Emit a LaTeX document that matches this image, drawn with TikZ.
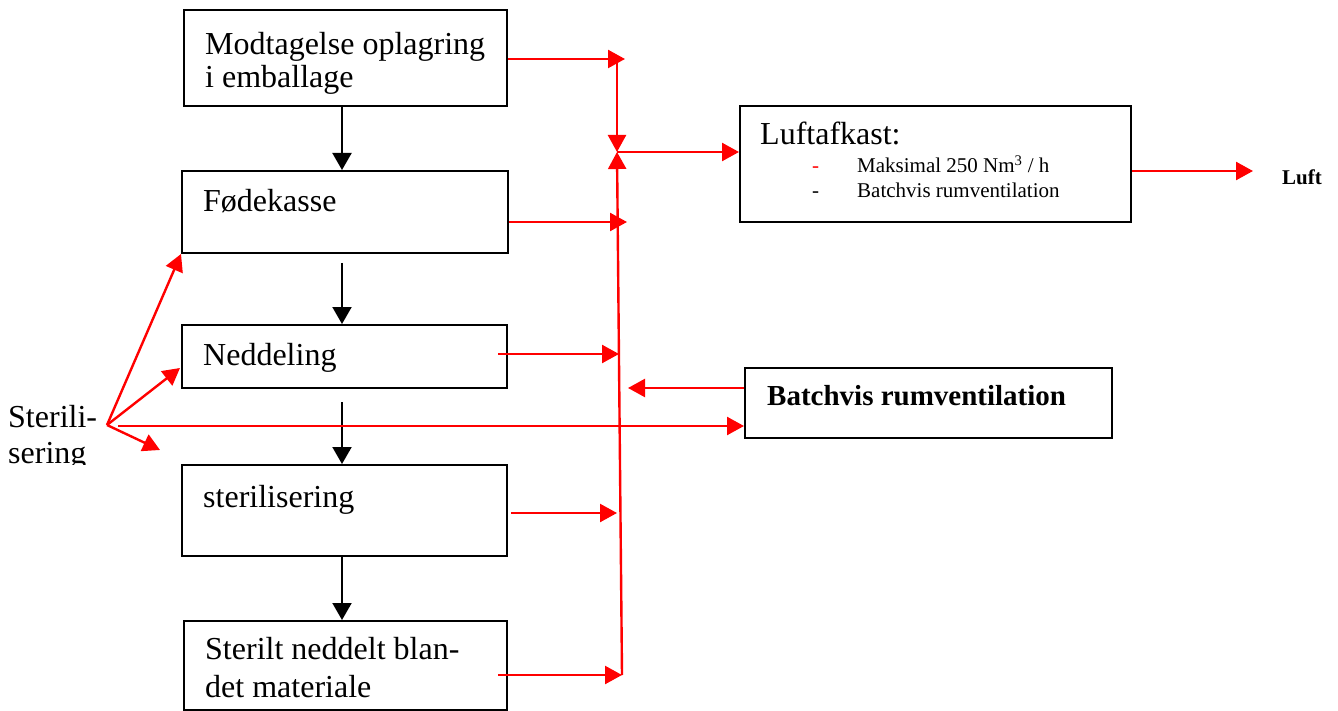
\documentclass[tikz,border=0pt]{standalone}
\usepackage{fontspec}
\setmainfont{Liberation Serif}
\usetikzlibrary{arrows.meta}
\definecolor{rd}{RGB}{255,0,0}
\begin{document}
\begin{tikzpicture}[x=1pt,y=-1pt,
  box/.style={draw=black,line width=2pt,inner sep=0pt},
  txt/.style={anchor=base west,inner sep=0pt,font=\fontsize{32}{36}\selectfont},
  small/.style={anchor=base west,inner sep=0pt,font=\fontsize{21}{25}\selectfont},
  ra/.style={draw=rd,line width=2.4pt,-{Triangle[length=17pt,width=18pt]}},
  ba/.style={draw=black,line width=2pt,-{Triangle[length=17pt,width=19pt]}}
]
\useasboundingbox (0,0) rectangle (1338,711);
% boxes
\node[box,minimum width=323pt,minimum height=96pt] (b1) at (345.5,58) {};
\node[box,minimum width=326pt,minimum height=82pt] (b2) at (345,212) {};
\node[box,minimum width=325pt,minimum height=63pt] (b3) at (344.5,356.5) {};
\node[box,minimum width=325pt,minimum height=91pt] (b4) at (344.5,510.5) {};
\node[box,minimum width=323pt,minimum height=89pt] (b5) at (345.5,665.5) {};
\node[box,minimum width=391pt,minimum height=116pt] (lu) at (935.5,164) {};
\node[box,minimum width=367pt,minimum height=70pt] (bv) at (928.5,403) {};
% texts
\node[txt] (t1) at (205,55) {Modtagelse oplagring};
\node[txt] (t1b) at (205,88) {i emballage};
\node[txt] (t2) at (203,212) {Fødekasse};
\node[txt] (t3) at (203,365) {Neddeling};
\node[txt] (t4) at (203,507) {sterilisering};
\node[txt] (t5) at (205,659) {Sterilt neddelt blan-};
\node[txt] (t5b) at (205,697) {det materiale};
\node[txt] (lt) at (760,145) {Luftafkast:};
\node[small,text=rd] (d1) at (812,173) {-};
\node[small] (m1) at (857,173) {Maksimal 250 Nm\textsuperscript{3} / h};
\node[small] (d2) at (812,198) {-};
\node[small] (m2) at (857,198) {Batchvis rumventilation};
\node[anchor=base west,inner sep=0pt,font=\fontsize{29}{33}\selectfont\bfseries] (bvt) at (767,405) {Batchvis rumventilation};
\node[anchor=base west,inner sep=0pt,font=\fontsize{21}{25}\selectfont\bfseries] (luft) at (1282,185) {Luft};
\begin{scope}
\clip (0,380) rectangle (110,464);
\node[txt] (st1) at (8,427) {Sterili-};
\node[txt] (st2) at (8,463) {sering};
\end{scope}
% black arrows
\coordinate (ax) at (342,0);
\draw[ba] (b1.south -| ax) -- (b2.north -| ax);
\draw[ba,shorten <=9pt] (b2.south -| ax) -- (b3.north -| ax);
\draw[ba,shorten <=13pt] (b3.south -| ax) -- (b4.north -| ax);
\draw[ba] (b4.south -| ax) -- (b5.north -| ax);
% red collector
\coordinate (J) at (617,59);
\coordinate (J1) at (625,59);
\coordinate (M) at (617,152);
\coordinate (B) at (622,675);
\draw[ra] (b1.east |- J1) -- (J1);
\draw[ra] (J) -- (M);
\draw[ra] (B) -- (M);
\draw[ra] (M) -- (M -| lu.west);
\coordinate (F1) at (627,222);
\draw[ra] (b2.east |- F1) -- (F1);
\coordinate (N0) at (498,354);
\coordinate (N1) at (619,354);
\draw[ra] (N0) -- (N1);
\coordinate (V1) at (628,388);
\draw[ra] (bv.west |- V1) -- (V1);
\coordinate (S0) at (511,513);
\coordinate (S1) at (617,513);
\draw[ra] (S0) -- (S1);
\coordinate (P0) at (498,675);
\draw[ra] (P0) -- (B);
\coordinate (L1) at (1253,171);
\draw[ra] (lu.east |- L1) -- (L1);
% sterilisering fan
\coordinate (O) at (107,425);
\coordinate (T2) at (180,368);
\coordinate (T3) at (160,450);
\coordinate (H0) at (118,426);
\draw[ra] (O) -- (b2.south west);
\draw[ra] (O) -- (T2);
\draw[ra] (O) -- (T3);
\draw[ra] (H0) -- (bv.west |- H0);
\end{tikzpicture}
\end{document}
